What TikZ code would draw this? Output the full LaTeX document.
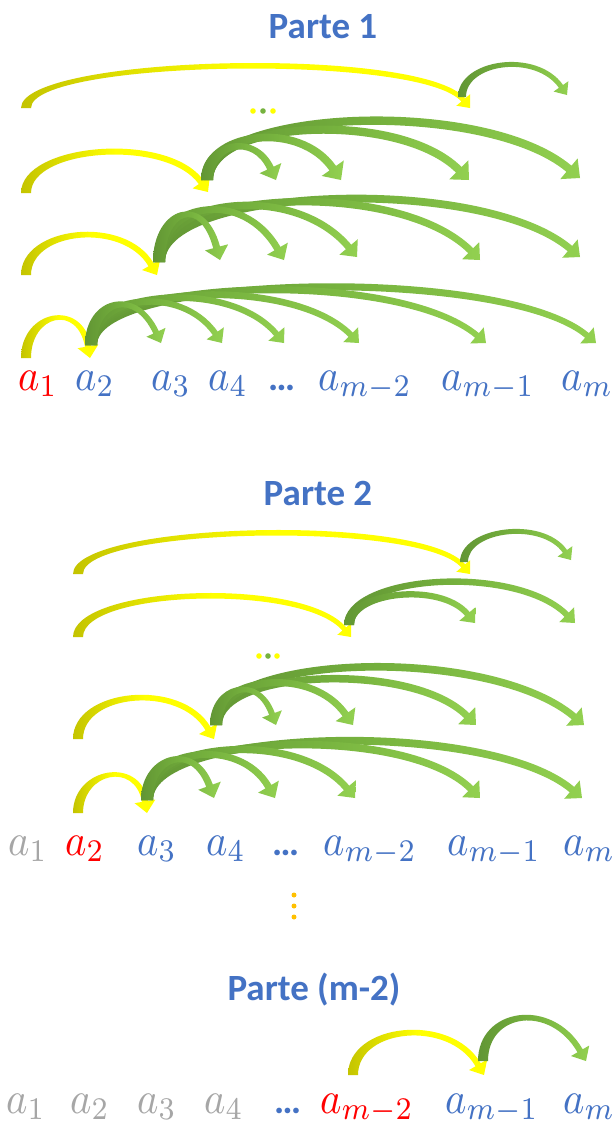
\documentclass[tikz,border=0pt]{standalone}
\usepackage{fontspec}
\newfontfamily\titlefont{Carlito}
\definecolor{tblue}{RGB}{68,114,196}
\definecolor{tred}{RGB}{255,0,0}
\definecolor{tgray}{RGB}{166,166,166}
\definecolor{yolive}{RGB}{196,196,0}
\definecolor{yfull}{RGB}{255,255,0}
\definecolor{gdark}{RGB}{98,150,52}
\definecolor{gmid}{RGB}{118,178,62}
\definecolor{glight}{RGB}{146,208,80}
\definecolor{dotgold}{RGB}{255,192,0}
\newcommand{\mlab}[1]{\scalebox{4.05}[4.5]{$#1$}}
% ribbon arrow: xs ys (start centre, bottom) xT yT (tip) ytop phi w0 w1
\newcommand{\ribbon}[8]{%
 \pgfmathsetmacro{\ux}{cos(#6)}%
 \pgfmathsetmacro{\uy}{-sin(#6)}%
 \pgfmathsetmacro{\nx}{-sin(#6)}%
 \pgfmathsetmacro{\ny}{-cos(#6)}%
 \pgfmathsetmacro{\hw}{1.5*#8+1.5}%
 \pgfmathsetmacro{\hl}{1.3*#8+4}%
 \pgfmathsetmacro{\ex}{#3-\ux*\hl}%
 \pgfmathsetmacro{\ey}{#4-\uy*\hl}%
 \pgfmathsetmacro{\wm}{(#7+#8)/4}%
 \pgfmathsetmacro{\bs}{(#2+\ey)/2}%
 \pgfmathsetmacro{\vo}{4/3*(\bs-#5+\wm/2)}%
 \pgfmathsetmacro{\vi}{4/3*(\bs-#5-\wm/2)}%
 \pgfmathsetmacro{\Aox}{#1-#7/2}%
 \pgfmathsetmacro{\Aix}{#1+#7/2}%
 \pgfmathsetmacro{\Boy}{#2-\vo}%
 \pgfmathsetmacro{\Biy}{#2-\vi}%
 \pgfmathsetmacro{\Eox}{\ex+\nx*#8/2}%
 \pgfmathsetmacro{\Eoy}{\ey+\ny*#8/2}%
 \pgfmathsetmacro{\Eix}{\ex-\nx*#8/2}%
 \pgfmathsetmacro{\Eiy}{\ey-\ny*#8/2}%
 \pgfmathsetmacro{\Cox}{\Eox-\ux*\vo/\uy}%
 \pgfmathsetmacro{\Coy}{\Eoy-\vo}%
 \pgfmathsetmacro{\Cix}{\Eix-\ux*\vi/\uy}%
 \pgfmathsetmacro{\Ciy}{\Eiy-\vi}%
 \pgfmathsetmacro{\Hox}{\ex+\nx*\hw}%
 \pgfmathsetmacro{\Hoy}{\ey+\ny*\hw}%
 \pgfmathsetmacro{\Hix}{\ex-\nx*\hw}%
 \pgfmathsetmacro{\Hiy}{\ey-\ny*\hw}%
 \shade[ribshade] (\Aox,#2) .. controls (\Aox,\Boy) and (\Cox,\Coy) .. (\Eox,\Eoy)
   -- (\Hox,\Hoy) -- (#3,#4) -- (\Hix,\Hiy) -- (\Eix,\Eiy)
   .. controls (\Cix,\Ciy) and (\Aix,\Biy) .. (\Aix,#2) -- cycle;
}
\newcommand{\Yarr}[8]{{\tikzset{ribshade/.style={left color=yolive,right color=yfull,middle color=yfull}}\ribbon{#1}{#2}{#3}{#4}{#5}{#6}{#7}{#8}}}
\newcommand{\Garr}[8]{{\tikzset{ribshade/.style={left color=gdark,right color=glight,middle color=gmid}}\ribbon{#1}{#2}{#3}{#4}{#5}{#6}{#7}{#8}}}
\begin{document}
\begin{tikzpicture}[x=1pt,y=-1pt,
  ttl/.style={anchor=base,inner sep=0,text=tblue,font=\titlefont\bfseries\fontsize{37}{44}\selectfont},
  lbl/.style={anchor=base west,inner sep=0},
  ell/.style={anchor=base west,inner sep=0,text=tblue,font=\titlefont\bfseries\fontsize{38}{44}\selectfont}]
\useasboundingbox (0,0) rectangle (614,1128);
\fill[white] (0,0) rectangle (614,1128);
% ---------------- Parte 1
\node[ttl] (t1) at (323,38) {Parte 1};
% row 1
\Yarr{26}{108}{470}{108}{66}{-50}{10}{5}
\Garr{462}{97}{567}{95}{65}{-55}{8}{5}
\fill[yfull] (253,111) circle (2.8);
\fill[gmid] (263,111) circle (2.8);
\fill[yfull] (273,111) circle (2.8);
% row 2
\Yarr{26}{193}{208}{192}{152}{-55}{10}{6}
\Garr{207}{180}{580}{178}{121}{-40}{12}{8}
\Garr{207}{180}{469}{180}{130}{-45}{12}{8}
\Garr{207}{180}{341}{180}{138}{-55}{12}{8}
\Garr{207}{180}{276}{180}{147}{-65}{12}{7}
% row 3
\Yarr{26}{275}{157}{275}{235}{-60}{10}{6}
\Garr{159}{262}{580}{257}{199}{-40}{12}{7}
\Garr{159}{262}{480}{260}{202}{-45}{12}{7}
\Garr{159}{262}{357}{257}{206}{-50}{12}{7}
\Garr{159}{262}{284}{260}{210}{-60}{12}{7}
\Garr{159}{262}{220}{260}{215}{-75}{12}{7}
% row 4
\Yarr{26}{358}{90}{358}{318}{-80}{10}{6}
\Garr{91}{345}{596}{343}{287}{-40}{12}{6}
\Garr{91}{345}{486}{343}{290}{-40}{12}{6}
\Garr{91}{345}{359}{343}{295}{-45}{12}{6}
\Garr{91}{345}{284}{343}{298}{-50}{12}{6}
\Garr{91}{345}{222}{343}{302}{-55}{12}{6}
\Garr{91}{345}{161}{343}{305}{-65}{12}{6}
% labels
\node[lbl,text=tred] (p1a1) at (18,390) {\mlab{a_1}};
\node[lbl,text=tblue] (p1a2) at (75,390) {\mlab{a_2}};
\node[lbl,text=tblue] (p1a3) at (151,390) {\mlab{a_3}};
\node[lbl,text=tblue] (p1a4) at (208,390) {\mlab{a_4}};
\node[ell] (p1d) at (268,390) {…};
\node[lbl,text=tblue] (p1am2) at (318,390) {\mlab{a_{m-2}}};
\node[lbl,text=tblue] (p1am1) at (441,390) {\mlab{a_{m-1}}};
\node[lbl,text=tblue] (p1am) at (561,390) {\mlab{a_m}};
% ---------------- Parte 2
\node[ttl] (t2) at (318,505) {Parte 2};
% row 1
\Yarr{78}{574}{470}{574}{533}{-50}{10}{5}
\Garr{464}{562}{571}{560}{532}{-55}{8}{5}
% row 2
\Yarr{78}{637}{351}{637}{596}{-50}{10}{5}
\Garr{349}{625}{575}{623}{582}{-45}{10}{6}
\Garr{349}{625}{475}{623}{595}{-50}{10}{6}
\fill[yfull] (259,656) circle (2.8);
\fill[gmid] (268,656) circle (2.8);
\fill[yfull] (277,656) circle (2.8);
% row 3
\Yarr{78}{739}{214}{739}{698}{-60}{10}{6}
\Garr{216}{725}{584}{725}{667}{-40}{12}{7}
\Garr{216}{725}{476}{725}{679}{-45}{12}{7}
\Garr{216}{725}{353}{725}{683}{-55}{12}{7}
\Garr{216}{725}{276}{725}{690}{-70}{12}{6}
% row 4
\Yarr{78}{813}{147}{813}{775}{-80}{10}{6}
\Garr{147}{800}{582}{798}{741}{-40}{12}{7}
\Garr{147}{800}{480}{798}{745}{-45}{12}{7}
\Garr{147}{800}{355}{798}{750}{-50}{12}{7}
\Garr{147}{800}{275}{798}{755}{-60}{12}{7}
\Garr{147}{800}{214}{798}{760}{-70}{12}{7}
% labels
\node[lbl,text=tgray] (p2a1) at (8,855) {\mlab{a_1}};
\node[lbl,text=tred] (p2a2) at (65,855) {\mlab{a_2}};
\node[lbl,text=tblue] (p2a3) at (137,855) {\mlab{a_3}};
\node[lbl,text=tblue] (p2a4) at (206,855) {\mlab{a_4}};
\node[ell] (p2d) at (272,855) {…};
\node[lbl,text=tblue] (p2am2) at (323,855) {\mlab{a_{m-2}}};
\node[lbl,text=tblue] (p2am1) at (447,855) {\mlab{a_{m-1}}};
\node[lbl,text=tblue] (p2am) at (563,855) {\mlab{a_m}};
% vertical dots
\fill[dotgold] (294,895) circle (2.5);
\fill[dotgold] (294,906) circle (2.5);
\fill[dotgold] (294,917) circle (2.5);
% ---------------- Parte (m-2)
\node[ttl] (t3) at (314,1000) {Parte (m-2)};
\Yarr{353}{1075}{484}{1075}{1033}{-60}{10}{6}
\Garr{483}{1061}{586}{1061}{1018}{-60}{10}{6}
\node[lbl,text=tgray] (p3a1) at (6,1113) {\mlab{a_1}};
\node[lbl,text=tgray] (p3a2) at (70,1113) {\mlab{a_2}};
\node[lbl,text=tgray] (p3a3) at (137,1113) {\mlab{a_3}};
\node[lbl,text=tgray] (p3a4) at (204,1113) {\mlab{a_4}};
\node[ell] (p3d) at (274,1113) {…};
\node[lbl,text=tred] (p3am2) at (320,1113) {\mlab{a_{m-2}}};
\node[lbl,text=tblue] (p3am1) at (445,1113) {\mlab{a_{m-1}}};
\node[lbl,text=tblue] (p3am) at (563,1113) {\mlab{a_m}};
\end{tikzpicture}
\end{document}
